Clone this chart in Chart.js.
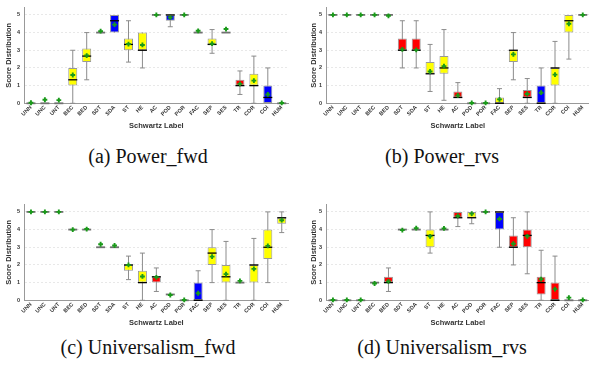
<!DOCTYPE html>
<html><head><meta charset="utf-8">
<script src="https://cdn.jsdelivr.net/npm/chart.js@4.4.1/dist/chart.umd.min.js"></script>
<style>
html,body{margin:0;padding:0;background:#fff;overflow:hidden;width:589px;height:367px;position:relative;}
canvas{position:absolute;}
.cap{position:absolute;font-family:"Liberation Serif","DejaVu Serif",serif;font-size:20px;line-height:22px;color:#111;white-space:nowrap;transform:translateX(-50%);}
</style></head><body>
<canvas id="ca" width="295" height="133" style="left:0;top:0"></canvas>
<canvas id="cb" width="291" height="133" style="left:305px;top:0"></canvas>
<canvas id="cc" width="295" height="133" style="left:0;top:197px"></canvas>
<canvas id="cd" width="291" height="133" style="left:305px;top:197px"></canvas>
<div class="cap" style="left:148px;top:145px">(a) Power_fwd</div>
<div class="cap" style="left:442px;top:145px">(b) Power_rvs</div>
<div class="cap" style="left:148px;top:336px">(c) Universalism_fwd</div>
<div class="cap" style="left:442px;top:336px">(d) Universalism_rvs</div>
<script>
const categories = ['UNN','UNC','UNT','BEC','BED','SDT','SDA','ST','HE','AC','POD','POR','FAC','SEP','SES','TR','COR','COI','HUM'];
const yTicks = [0,1,2,3,4,5];

// (a) Power_fwd
const pfLow  = [0,0,0,0,1.33,4,4,2.33,2,5,4.33,5,4,2.83,4,0.5,0,0,0];
const pfQ1   = [0,0,0,1,2.33,4,4,3,3,5,4.67,5,4,3.33,4,1,1,0,0];
const pfMed  = [0,0,0,1.33,2.67,4,4.67,3.33,3,5,5,5,4,3.33,4,1,1,0.33,0];
const pfQ3   = [0,0,0,2,3.1,4,5,3.67,4,5,5,5,4,3.67,4,1.33,1.67,1,0];
const pfHigh = [0,0,0,3,4,4,5,4.67,4,5,5,5,4,4.17,4,1.83,2.67,2,0];
const pfMean = [0.03,0.2,0.18,1.6,2.7,4.08,4.45,3.35,3.3,5,4.85,5,4.1,3.37,4.2,1.1,1.28,0.5,0.02];
const pfColor= ['','','','Y','Y','','B','Y','Y','','B','','','Y','','R','Y','B',''];

// (b) Power_rvs
const prLow  = [5,5,5,5,5,2,2,0.67,0.17,0.33,0,0,0,1.33,0,0,0,2.5,5];
const prQ1   = [5,5,5,5,5,3,3,1.67,1.67,0.33,0,0,0,2.33,0.33,0,1,4,5];
const prMed  = [5,5,5,5,5,3,3,1.67,2,0.33,0,0,0,3,0.33,0,2,4.67,5];
const prQ3   = [5,5,5,5,5,3.67,3.67,2.33,2.67,0.67,0,0,0.33,3,0.75,1,2,5,5];
const prHigh = [5,5,5,5,5,4.67,4.67,3.33,4.17,1.17,0,0,0.83,4,1.4,2,3.5,5,5];
const prMean = [5,5,5,5,4.95,3.05,3.02,1.8,2.1,0.45,0.02,0.02,0.22,2.77,0.53,0.6,1.62,4.5,5];
const prColor= ['','','','','','R','R','Y','Y','R','','','Y','Y','R','B','Y','Y',''];

// (c) Universalism_fwd
const ufLow  = [5,5,5,4,4,3,3,1.17,0,0.5,0.33,0,0,1,0,1,0,1,3.83];
const ufQ1   = [5,5,5,4,4,3,3,1.67,1,1,0.33,0,0,2,1,1,1,2.33,4.33];
const ufMed  = [5,5,5,4,4,3,3,2,1,1.33,0.33,0,0,2.67,1.33,1,2,3,4.67];
const ufQ3   = [5,5,5,4,4,3,3,2,1.67,1.33,0.33,0,1,3,2,1,2,4,4.67];
const ufHigh = [5,5,5,4,4,3,3,2.5,2.67,1.83,0.33,0,1.67,4,3.33,1,3.5,5,5];
const ufMean = [5,5,5,4,4.03,3.17,3.1,2.0,1.35,1.3,0.3,0.02,0.4,2.47,1.48,1.1,1.78,3.08,4.53];
const ufColor= ['','','','','','','','Y','Y','R','','','B','Y','Y','','Y','Y','Y'];

// (d) Universalism_rvs
const urLow  = [0,0,0,1,0.5,4,4,2.67,4,4.17,4.33,5,3,2,1.5,0,0,0,0];
const urQ1   = [0,0,0,1,1,4,4,3,4,4.67,4.67,5,4,3,3,0.33,0,0,0];
const urMed  = [0,0,0,1,1,4,4,3.67,4,4.67,4.67,5,5,3,3.67,1,0,0,0];
const urQ3   = [0,0,0,1,1.33,4,4,4,4,5,5,5,5,3.67,4,1.33,1,0,0];
const urHigh = [0,0,0,1,1.83,4,4,5,4,5,5,5,5,4.67,5,2.83,2.5,0,0];
const urMean = [0.02,0.02,0.02,0.95,1.07,3.97,4.08,3.62,4.07,4.77,4.9,5,4.6,3.2,3.62,1.2,0.63,0.15,0.02];
const urColor= ['','','','','R','','','Y','','R','Y','','B','R','R','R','R','',''];

const palette = {Y:'#ffff00', R:'#ff0000', B:'#0000ff', '':'#9a9a9a'};
const GRAY = '#8c8c8c';
const GREEN = '#1a9a1a';
const FONT = 'Liberation Sans, Arial, sans-serif';

function makeChart(id, lo, q1, med, q3, hi, mean, col, yWidth) {
  const degen = q1.map((v,i)=> v === q3[i]);
  new Chart(document.getElementById(id), {
    type: 'bar',
    data: {
      labels: categories,
      datasets: [
        { type:'line', data: mean, showLine:false, clip:false,
          pointStyle:'cross', pointRadius:2.4, pointBorderWidth:1.9,
          pointBorderColor:GREEN, pointBackgroundColor:GREEN },
        { type:'line', data: med, showLine:false, clip:false,
          pointStyle:'line', pointRadius:4.5,
          pointBorderWidth: degen.map(d=> d?1.8:1.3),
          pointBorderColor: degen.map(d=> d?'#707070':'#000') },
        { type:'bar', data: q1.map((v,i)=>[v,q3[i]]), grouped:false,
          barThickness:9, inflateAmount:0, borderSkipped:false, borderWidth:1,
          borderColor:'#999', backgroundColor: col.map(c=>palette[c]) },
        { type:'line', data: hi.map((v,i)=> v>q3[i]?v:null), showLine:false, clip:false,
          pointStyle:'line', pointRadius:2.5, pointBorderWidth:1, pointBorderColor:GRAY },
        { type:'line', data: lo.map((v,i)=> v<q1[i]?v:null), showLine:false, clip:false,
          pointStyle:'line', pointRadius:2.5, pointBorderWidth:1, pointBorderColor:GRAY },
        { type:'bar', data: lo.map((v,i)=>[v,hi[i]]), grouped:false,
          barThickness:1, inflateAmount:0, borderWidth:0, backgroundColor:GRAY }
      ]
    },
    options: {
      responsive:false, animation:false, events:[],
      layout:{ padding:{ top:5, right:4, left:0, bottom:0 } },
      plugins:{ legend:{display:false}, tooltip:{enabled:false} },
      scales:{
        x:{
          offset:true,
          grid:{display:false, drawTicks:false},
          border:{display:true, color:'#999', width:1},
          ticks:{ autoSkip:false, maxRotation:45, minRotation:45, padding:1,
                  color:'#333', font:{family:FONT, size:5.5, weight:'bold'} },
          title:{ display:true, text:'Schwartz Label', color:'#333', padding:{top:2,bottom:3},
                  font:{family:FONT, size:7.5, weight:'bold'} },
          afterFit: s => { s.height = 29.7; s.paddingRight = 0; s.paddingLeft = 0; }
        },
        y:{
          min:0, max:5.43,
          afterBuildTicks: s => { s.ticks = yTicks.map(v=>({value:v})); },
          grid:{ color:'#e2e2e2', lineWidth:0.8, drawTicks:false },
          border:{ display:true, color:'#999', width:1, dash:[2,2] },
          ticks:{ padding:4, color:'#333', font:{family:FONT, size:5.5, weight:'bold'} },
          title:{ display:true, text:'Score Distribution', color:'#333', padding:{top:4,bottom:2},
                  font:{family:FONT, size:7.5, weight:'bold'} },
          afterFit: s => { s.width = yWidth; }
        }
      }
    }
  });
}

makeChart('ca', pfLow, pfQ1, pfMed, pfQ3, pfHigh, pfMean, pfColor, 24);
makeChart('cb', prLow, prQ1, prMed, prQ3, prHigh, prMean, prColor, 21);
makeChart('cc', ufLow, ufQ1, ufMed, ufQ3, ufHigh, ufMean, ufColor, 24);
makeChart('cd', urLow, urQ1, urMed, urQ3, urHigh, urMean, urColor, 21);
</script>
</body></html>
